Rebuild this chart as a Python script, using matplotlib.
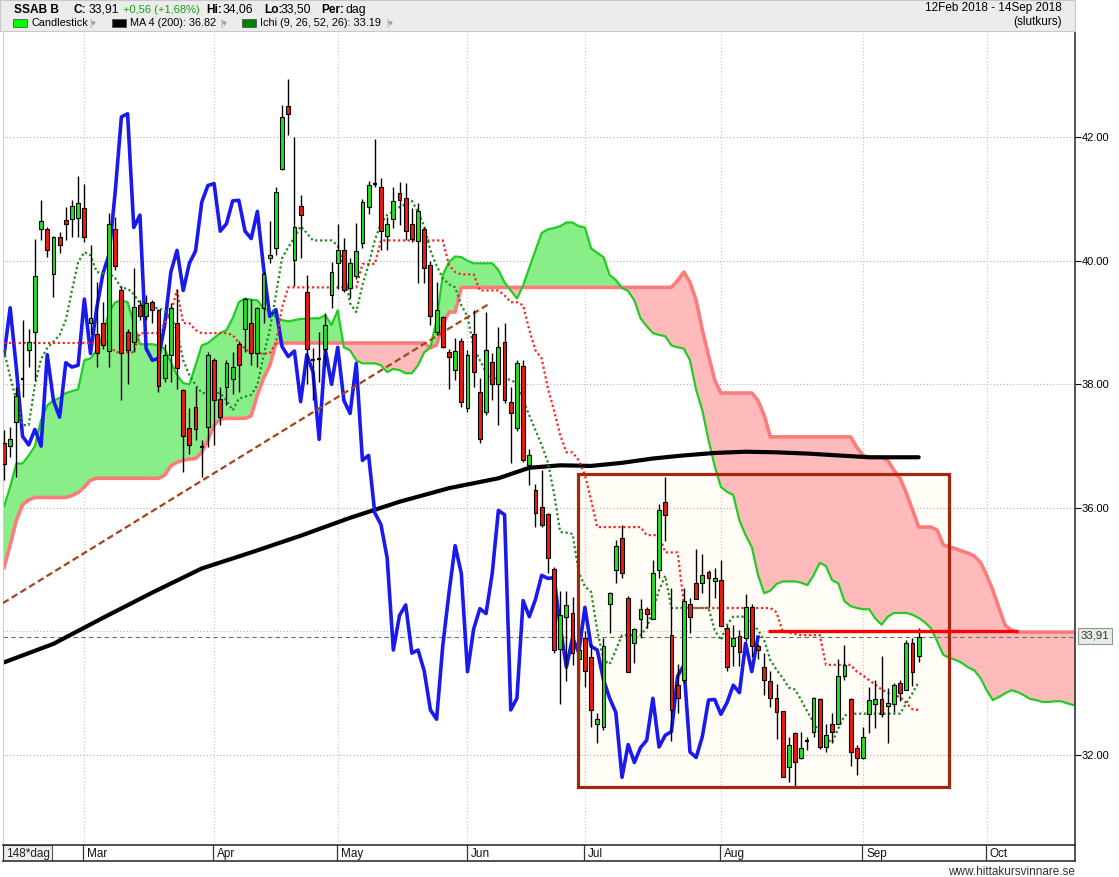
import matplotlib
matplotlib.use('Agg')
import matplotlib.pyplot as plt
from matplotlib.patches import Rectangle
import numpy as np

plt.rcParams['font.family'] = ['Liberation Sans', 'DejaVu Sans']

W, H = 1119, 877

# ---------------- data (trading-day index 0 = 12 Feb 2018) ----------------
opens = [37.05, 37.01, 37.39, 38.06, 38.56, 38.84, 40.51, 40.52, 39.79, 40.39,
         40.66, 40.68, 40.70, 40.86, 39.00, 38.81, 38.99, 38.54, 40.51, 39.52,
         38.84, 38.69, 39.29, 39.10, 39.33, 39.20, 38.10, 38.47, 38.99, 37.91,
         37.30, 37.63, 36.96, 37.31, 38.40, 37.77, 37.96, 38.09, 38.66, 38.89,
         39.00, 38.51, 39.24, 40.04, 40.20, 41.49, 42.50, 40.01, 40.89, 39.50,
         38.40, 38.41, 38.58, 39.45, 39.96, 40.17, 39.56, 39.75, 40.29, 40.87,
         41.24, 41.20, 40.40, 40.67, 41.10, 41.01, 40.59, 40.32, 40.51, 39.94,
         38.85, 39.09, 38.52, 38.23, 38.70, 37.61, 38.81, 37.87, 37.55, 38.37,
         38.01, 38.69, 37.71, 37.30, 38.30, 36.70, 36.29, 36.02, 35.90, 35.01,
         33.71, 34.24, 34.30, 33.55, 33.89, 33.59, 32.51, 32.45, 34.44, 35.00,
         35.51, 34.55, 33.81, 34.21, 34.37, 34.21, 35.00, 36.09, 33.95, 33.13,
         33.22, 34.44, 34.78, 34.79, 34.96, 34.81, 34.84, 34.05, 33.77, 33.93,
         33.89, 34.39, 33.77, 33.42, 33.20, 32.93, 32.71, 31.80, 32.35, 31.96,
         32.23, 32.38, 32.90, 32.13, 32.51, 32.51, 33.28, 32.90, 32.11, 31.96,
         32.67, 32.83, 32.90, 32.80, 32.83, 33.17, 33.06, 33.82, 33.61]
highs = [37.26, 37.31, 37.96, 39.04, 38.90, 40.35, 40.98, 40.55, 40.40, 40.47,
         40.87, 40.99, 41.37, 41.24, 40.25, 39.66, 39.33, 40.77, 40.71, 39.60,
         38.90, 39.88, 39.36, 39.44, 39.36, 39.22, 38.66, 39.31, 39.55, 37.92,
         37.61, 37.96, 37.10, 38.52, 38.42, 37.96, 38.39, 38.53, 38.70, 39.40,
         39.38, 39.25, 39.82, 40.64, 41.20, 42.52, 42.95, 42.00, 41.06, 39.77,
         38.59, 38.85, 39.15, 39.98, 40.60, 40.37, 40.05, 40.61, 41.00, 41.30,
         41.97, 41.34, 40.71, 41.20, 41.28, 41.26, 40.85, 40.93, 40.55, 40.00,
         39.66, 39.10, 38.58, 38.75, 38.75, 38.55, 39.20, 38.10, 39.17, 38.50,
         38.93, 39.00, 37.96, 38.40, 38.40, 36.96, 36.39, 36.61, 35.92, 35.05,
         34.65, 34.65, 34.56, 34.10, 34.00, 33.80, 32.68, 33.90, 34.64, 35.48,
         35.73, 34.57, 34.06, 34.52, 34.40, 35.16, 36.07, 36.50, 34.70, 33.48,
         34.70, 34.55, 35.33, 35.25, 35.00, 35.03, 35.15, 34.11, 34.11, 34.03,
         34.60, 34.44, 33.80, 33.65, 33.36, 33.15, 32.71, 32.30, 32.38, 32.38,
         32.30, 32.94, 32.92, 32.50, 32.68, 33.55, 33.78, 32.92, 32.17, 32.45,
         33.10, 33.21, 33.61, 33.08, 33.16, 33.21, 33.86, 33.89, 34.06]
lows = [36.45, 36.83, 36.50, 37.80, 38.28, 38.07, 40.33, 40.06, 39.42, 40.12,
        40.33, 40.39, 40.39, 40.31, 38.82, 38.28, 38.58, 38.28, 39.85, 37.74,
        38.01, 38.53, 39.04, 39.05, 38.99, 37.88, 38.04, 38.04, 37.93, 36.58,
        36.88, 37.10, 36.50, 36.99, 37.02, 37.34, 37.66, 37.85, 37.88, 38.53,
        38.31, 38.28, 39.00, 39.96, 40.10, 41.47, 42.03, 39.60, 40.04, 38.00,
        37.74, 38.04, 38.30, 39.23, 39.55, 39.49, 39.40, 39.70, 40.20, 40.75,
        41.20, 40.17, 40.17, 40.53, 40.58, 40.33, 40.30, 39.64, 39.64, 38.96,
        38.80, 38.59, 37.93, 38.07, 37.64, 37.55, 37.96, 37.05, 37.50, 37.74,
        37.34, 37.70, 36.72, 37.25, 36.74, 36.37, 35.69, 35.69, 34.94, 33.65,
        32.83, 33.20, 33.45, 33.20, 33.10, 32.45, 32.19, 32.40, 33.98, 34.78,
        34.87, 33.35, 33.49, 33.89, 34.05, 34.21, 34.86, 35.47, 32.23, 32.68,
        33.16, 33.98, 34.52, 34.62, 34.39, 34.55, 34.09, 33.36, 33.44, 33.44,
        33.85, 33.58, 33.55, 32.98, 32.77, 32.26, 31.64, 31.57, 31.49, 31.94,
        32.08, 32.29, 32.10, 32.05, 32.19, 32.50, 33.22, 31.82, 31.67, 31.93,
        32.36, 32.44, 32.61, 32.19, 32.70, 32.87, 33.06, 33.12, 33.50]
closes = [36.71, 37.11, 37.81, 38.10, 38.69, 39.75, 40.64, 40.17, 40.39, 40.25,
          40.60, 40.89, 40.94, 40.38, 39.07, 38.50, 38.63, 40.60, 39.92, 38.50,
          38.56, 39.25, 39.10, 39.31, 39.20, 37.97, 38.47, 39.24, 38.26, 37.16,
          37.02, 37.27, 37.00, 38.48, 37.74, 37.47, 38.35, 38.28, 38.31, 39.38,
          38.50, 39.23, 39.79, 40.10, 41.12, 42.33, 42.38, 40.54, 40.74, 38.58,
          38.39, 38.42, 38.96, 39.82, 40.17, 39.52, 39.96, 40.16, 40.95, 41.22,
          41.25, 40.48, 40.60, 40.97, 40.98, 40.48, 40.36, 40.80, 39.89, 39.10,
          39.21, 38.61, 38.45, 38.54, 37.72, 38.48, 38.20, 37.11, 38.56, 38.00,
          38.60, 37.74, 37.53, 38.34, 36.77, 36.85, 35.92, 35.73, 35.19, 33.70,
          34.26, 34.43, 33.65, 33.70, 33.36, 32.73, 32.58, 33.77, 34.62, 35.39,
          34.94, 33.35, 34.04, 34.37, 34.29, 34.94, 35.96, 35.89, 32.73, 32.92,
          34.50, 34.24, 34.52, 34.91, 34.86, 34.87, 34.09, 33.42, 33.90, 33.66,
          34.39, 33.76, 33.70, 33.22, 32.92, 32.69, 31.64, 32.17, 31.88, 32.12,
          32.24, 32.92, 32.13, 32.32, 32.38, 33.28, 33.45, 32.05, 31.96, 32.30,
          32.89, 32.90, 32.66, 32.85, 33.13, 33.01, 33.81, 33.35, 33.91]

# Ichimoku cloud (already displaced 26 days forward, index 0..174)
span_a = [36.02, 36.34, 36.72, 36.72, 36.85, 37.00, 37.42, 37.66, 37.74, 37.78,
          37.86, 37.89, 37.92, 38.39, 38.42, 38.55, 38.80, 39.17, 39.33, 39.36,
          39.33, 39.00, 38.65, 38.65, 38.65, 38.63, 38.58, 38.36, 38.15, 38.02,
          38.00, 38.31, 38.63, 38.67, 38.75, 38.83, 38.88, 39.07, 39.33, 39.39,
          39.37, 39.36, 39.23, 39.18, 39.09, 39.04, 39.02, 39.04, 39.06, 39.06,
          39.07, 39.07, 39.12, 38.96, 39.20, 38.60, 38.55, 38.39, 38.34, 38.34,
          38.34, 38.31, 38.20, 38.25, 38.23, 38.18, 38.18, 38.31, 38.52, 38.60,
          39.04, 39.77, 39.98, 40.07, 40.06, 40.00, 39.96, 39.96, 39.96, 39.96,
          39.85, 39.65, 39.52, 39.39, 39.60, 39.89, 40.17, 40.45, 40.51, 40.53,
          40.56, 40.62, 40.62, 40.56, 40.54, 40.20, 40.13, 40.06, 39.77, 39.69,
          39.56, 39.51, 39.36, 39.07, 38.94, 38.83, 38.80, 38.78, 38.63, 38.60,
          38.58, 38.39, 37.91, 37.58, 37.10, 36.68, 36.34, 36.26, 36.21, 35.80,
          35.56, 35.37, 34.92, 34.62, 34.66, 34.77, 34.81, 34.81, 34.81, 34.79,
          34.75, 34.91, 35.11, 35.06, 34.83, 34.78, 34.49, 34.41, 34.38, 34.36,
          34.36, 34.21, 34.11, 34.24, 34.30, 34.30, 34.30, 34.27, 34.22, 34.15,
          34.05, 33.84, 33.62, 33.57, 33.54, 33.49, 33.42, 33.37, 33.25, 33.05,
          32.89, 32.94, 33.00, 33.05, 33.02, 32.97, 32.91, 32.89, 32.86, 32.86,
          32.87, 32.87, 32.84, 32.81, 32.81]
span_b = [35.03, 35.40, 35.80, 36.05, 36.13, 36.17, 36.17, 36.17, 36.17, 36.17,
          36.17, 36.20, 36.25, 36.34, 36.45, 36.48, 36.48, 36.48, 36.48, 36.48,
          36.48, 36.48, 36.48, 36.48, 36.48, 36.48, 36.53, 36.68, 36.74, 36.77,
          36.79, 36.80, 36.90, 37.10, 37.34, 37.44, 37.45, 37.45, 37.45, 37.45,
          37.49, 37.83, 38.10, 38.30, 38.67, 38.67, 38.67, 38.67, 38.67, 38.67,
          38.67, 38.67, 38.67, 38.67, 38.67, 38.67, 38.67, 38.67, 38.67, 38.67,
          38.67, 38.67, 38.67, 38.67, 38.67, 38.67, 38.67, 38.67, 38.67, 38.59,
          38.64, 38.97, 39.17, 39.17, 39.57, 39.57, 39.57, 39.57, 39.57, 39.57,
          39.57, 39.57, 39.57, 39.57, 39.57, 39.57, 39.57, 39.57, 39.57, 39.57,
          39.57, 39.57, 39.57, 39.57, 39.57, 39.57, 39.57, 39.57, 39.57, 39.57,
          39.57, 39.57, 39.57, 39.57, 39.57, 39.57, 39.57, 39.57, 39.57, 39.68,
          39.82, 39.65, 39.36, 38.88, 38.47, 38.07, 37.86, 37.86, 37.86, 37.86,
          37.86, 37.86, 37.74, 37.50, 37.15, 37.15, 37.15, 37.15, 37.15, 37.15,
          37.15, 37.15, 37.15, 37.15, 37.15, 37.15, 37.15, 37.15, 36.98, 36.85,
          36.82, 36.82, 36.82, 36.77, 36.61, 36.48, 36.24, 35.97, 35.69, 35.69,
          35.69, 35.64, 35.40, 35.37, 35.34, 35.30, 35.27, 35.22, 35.12, 34.91,
          34.67, 34.38, 34.10, 34.02, 33.99, 33.99, 33.99, 33.99, 33.99, 33.99,
          33.99, 33.99, 33.99, 33.99, 33.99]
tenkan = [38.55, 38.12, 37.74, 37.34, 37.34, 37.99, 38.41, 38.59, 38.69, 38.80,
          39.04, 39.52, 39.98, 40.14, 40.09, 39.82, 39.80, 39.80, 39.72, 39.56,
          39.55, 39.46, 39.31, 39.28, 39.25, 39.23, 39.20, 39.07, 38.88, 38.39,
          38.15, 37.99, 37.86, 37.86, 37.86, 37.86, 37.74, 37.58, 37.77, 37.80,
          37.83, 37.99, 38.47, 38.88, 39.45, 40.04, 40.22, 40.38, 40.56, 40.45,
          40.33, 40.33, 40.33, 40.33, 40.25, 39.89, 39.31, 39.17, 39.61, 39.94,
          40.33, 40.61, 40.74, 40.80, 40.87, 40.92, 40.97, 40.79, 40.56, 40.17,
          39.92, 39.72, 39.62, 39.57, 39.28, 39.10, 38.60, 38.39, 38.20, 38.10,
          38.10, 38.10, 38.07, 38.02, 37.74, 37.50, 37.26, 37.02, 36.74, 36.24,
          35.61, 35.60, 35.58, 34.96, 34.73, 34.64, 34.02, 33.54, 33.47, 33.70,
          33.94, 33.94, 33.94, 33.94, 34.06, 34.35, 34.67, 34.90, 34.38, 34.38,
          34.38, 34.38, 34.38, 34.38, 34.38, 34.02, 33.86, 34.11, 34.24, 34.24,
          34.24, 34.15, 34.02, 33.86, 33.54, 33.38, 33.25, 33.09, 33.06, 32.89,
          32.70, 32.53, 32.35, 32.27, 32.20, 32.43, 32.64, 32.67, 32.67, 32.67,
          32.67, 32.67, 32.67, 32.67, 32.67, 32.67, 32.84, 33.00, 33.18]
kijun = [38.67, 38.67, 38.67, 38.67, 38.67, 38.67, 38.67, 38.67, 38.67, 38.67,
         38.67, 38.67, 38.67, 38.67, 38.67, 38.67, 38.67, 38.67, 38.52, 38.52,
         38.52, 38.52, 38.83, 38.83, 38.83, 38.83, 38.99, 39.17, 39.52, 38.99,
         38.99, 38.88, 38.83, 38.83, 38.83, 38.83, 38.83, 38.80, 38.67, 38.58,
         38.50, 38.50, 38.50, 38.50, 38.67, 39.25, 39.57, 39.57, 39.57, 39.57,
         39.57, 39.57, 39.57, 39.57, 39.57, 39.57, 39.57, 39.57, 39.95, 39.95,
         39.95, 40.33, 40.33, 40.33, 40.33, 40.33, 40.33, 40.33, 40.33, 40.33,
         40.33, 40.33, 39.93, 39.82, 39.78, 39.78, 39.78, 39.52, 39.52, 39.52,
         39.52, 39.44, 39.33, 39.33, 39.28, 38.88, 38.55, 38.42, 37.94, 37.58,
         37.18, 36.90, 36.90, 36.77, 36.53, 36.13, 35.69, 35.69, 35.69, 35.69,
         35.69, 35.69, 35.69, 35.69, 35.56, 35.56, 35.56, 35.28, 35.28, 35.28,
         34.46, 34.38, 34.38, 34.38, 34.38, 34.38, 34.38, 34.38, 34.38, 34.38,
         34.38, 34.38, 34.38, 34.38, 34.38, 34.31, 34.00, 33.98, 33.96, 33.94,
         33.94, 33.94, 33.94, 33.46, 33.46, 33.46, 33.46, 33.46, 33.35, 33.29,
         33.21, 33.14, 33.06, 33.01, 32.97, 32.94, 32.84, 32.74, 32.73]
ma_idx = [0, 8, 16, 24, 32, 40, 48, 56, 64, 72, 80, 85, 90, 95, 100, 105, 110,
          115, 120, 125, 130, 135, 140, 145, 148]
ma_val = [33.50, 33.80, 34.22, 34.63, 35.02, 35.28, 35.55, 35.84, 36.10, 36.32,
          36.48, 36.65, 36.69, 36.68, 36.73, 36.80, 36.85, 36.89, 36.91, 36.90,
          36.88, 36.85, 36.82, 36.82, 36.82]
chikou_shift = 26

month_labels = ['Mar', 'Apr', 'May', 'Jun', 'Jul', 'Aug', 'Sep', 'Oct']
month_pos = [13, 34, 54, 75, 94, 116, 139, 159]
price_ticks = [32, 34, 36, 38, 40, 42]
last_close = 33.91

# drawn annotations (data coordinates)
box_x = (92.9, 152.9)
box_y = (31.48, 36.55)
trend_x = (-0.16, 78.6)
trend_y = (34.46, 39.31)
hline_x = (123.6, 164.1)
hline_y = 34.0

# ---------------- figure ----------------
fig = plt.figure(figsize=(W / 100, H / 100), dpi=100)
fig.patch.set_facecolor('white')

def fx(px):
    return px / W

def fy(py):
    return 1 - py / H

L_, R_, T_, B_ = 3, 1075, 31, 845
ax = fig.add_axes([fx(L_), fy(B_), (R_ - L_) / W, (B_ - T_) / H])
ax.set_xlim(-0.16, 173.3)
ax.set_ylim(30.544, 43.72)
ax.set_facecolor('white')

n = len(closes)
idx = np.arange(n)
cidx = np.arange(len(span_a))

# box fill
ax.add_patch(Rectangle((box_x[0], box_y[0]), box_x[1] - box_x[0], box_y[1] - box_y[0],
                       facecolor='#fffdf6', edgecolor='none', zorder=0.5))

# grid
for p in price_ticks:
    ax.axhline(p, color='#b0b0b0', lw=0.8, ls=(0, (1, 2)), zorder=0.8)
for m in month_pos:
    ax.axvline(m, color='#c0c0c0', lw=0.8, ls=(0, (1, 2)), zorder=0.8)

# cloud
sa = np.array(span_a)
sb = np.array(span_b)
ax.fill_between(cidx, sa, sb, where=sa >= sb, interpolate=True,
                facecolor='#88ee88', edgecolor='none', zorder=1)
ax.fill_between(cidx, sa, sb, where=sa < sb, interpolate=True,
                facecolor='#ffbbbb', edgecolor='none', zorder=1)
ax.plot(cidx, sb, color='#ff7b7b', lw=2.6, zorder=1.5, solid_joinstyle='round')
ax.plot(cidx, sa, color='#22cc22', lw=1.6, zorder=1.6, solid_joinstyle='round')

# current price dashed line
ax.axhline(last_close, color='#5a7a5a', lw=0.8, ls=(0, (4, 3)), zorder=1.7)

# MA 200
ax.plot(ma_idx, ma_val, color='black', lw=3.0, zorder=2, solid_capstyle='round')

# chikou span (close shifted back)
ax.plot(idx[chikou_shift:] - chikou_shift, closes[chikou_shift:], color='#1a1aee',
        lw=2.6, zorder=2.5, solid_joinstyle='round')

# tenkan / kijun
ax.plot(idx, kijun, color='#ff2020', lw=1.6, ls=(0, (1, 1.2)), zorder=2.6)
ax.plot(idx, tenkan, color='#1e8a1e', lw=1.6, ls=(0, (1, 1.2)), zorder=2.6)

# trend line
ax.plot(trend_x, trend_y, color='#a4441c', lw=1.6, ls=(0, (3, 1.6)), zorder=2.7)

# candles
bw = 0.62
for i in range(n):
    o, h, l, c = opens[i], highs[i], lows[i], closes[i]
    ax.vlines(i, l, h, color='black', lw=1.0, zorder=3)
    if abs(c - o) < 0.045:
        ax.hlines((o + c) / 2, i - bw / 2, i + bw / 2, color='black', lw=1.6, zorder=3.1)
    else:
        col = '#22e022' if c > o else '#f01a10'
        ax.add_patch(Rectangle((i - bw / 2, min(o, c)), bw, abs(c - o),
                               facecolor=col, edgecolor='black', lw=0.8, zorder=3.1))

# box edge
ax.add_patch(Rectangle((box_x[0], box_y[0]), box_x[1] - box_x[0], box_y[1] - box_y[0],
                       facecolor='none', edgecolor='#a3290a', lw=2.3, zorder=3.5))

# red horizontal line
ax.plot(hline_x, [hline_y, hline_y], color='#ff0000', lw=2.4, zorder=3.6,
        solid_capstyle='butt')

# axis styling
ax.yaxis.tick_right()
ax.set_yticks([32, 36, 38, 40, 42])
ax.set_yticklabels(['32.00', '36.00', '38.00', '40.00', '42.00'])
ax.tick_params(axis='y', direction='out', length=4, width=0.8, colors='black',
               labelsize=8, pad=1)
ax.set_xticks([])
for s in ['top', 'bottom']:
    ax.spines[s].set_visible(False)
ax.spines['right'].set_color('#333333')
ax.spines['right'].set_linewidth(1.2)
ax.spines['left'].set_color('#d0d0d0')

# date band
bax = fig.add_axes([fx(L_), fy(861), (R_ - L_) / W, 16 / H])
bax.set_xlim(-0.16, 173.3)
bax.set_ylim(0, 1)
bax.set_xticks([])
bax.set_yticks([])
for s in ['top', 'bottom']:
    bax.spines[s].set_color('#333333')
    bax.spines[s].set_linewidth(1.2)
bax.spines['left'].set_color('#333333')
bax.spines['right'].set_color('#333333')
bax.spines['right'].set_linewidth(1.2)
for lab, m in zip(month_labels, month_pos):
    bax.axvline(m - 0.15, color='#333333', lw=0.9)
    bax.text(m + 0.5, 0.45, lab, fontsize=8.5, va='center', ha='left', color='#111111')
bax.add_patch(Rectangle((-0.16, 0), 7.9, 1, facecolor='#eeeeee', edgecolor='#555555', lw=0.8))
bax.text(0.3, 0.45, '148*dag', fontsize=8.5, va='center', ha='left', color='#222222')

# price label at right
fig.text(fx(1095), fy(636), '33,91', fontsize=8.2, ha='center', va='center', color='#333333',
         bbox=dict(boxstyle='square,pad=0.25', facecolor='#e6ece6', edgecolor='#8a9a8a', lw=0.8))

# header
fig.patches.append(Rectangle((0, fy(31)), fx(1075), 31 / H, transform=fig.transFigure,
                             facecolor='#ececec', edgecolor='#c8c8c8', lw=0.8, zorder=0))
r1, r2 = fy(10), fy(23)
fig.text(fx(14), r1, 'SSAB B', fontsize=8.6, fontweight='bold', va='center')
fig.text(fx(74), r1, 'C:', fontsize=8.6, fontweight='bold', va='center')
fig.text(fx(89), r1, '33,91', fontsize=8.8, va='center')
fig.text(fx(123), r1, '+0,56 (+1,68%)', fontsize=8.0, va='center', color='#16a016')
fig.text(fx(206), r1, 'Hi:', fontsize=8.6, fontweight='bold', va='center')
fig.text(fx(223), r1, '34,06', fontsize=8.8, va='center')
fig.text(fx(264), r1, 'Lo:', fontsize=8.6, fontweight='bold', va='center')
fig.text(fx(281), r1, '33,50', fontsize=8.8, va='center')
fig.text(fx(321), r1, 'Per:', fontsize=8.6, fontweight='bold', va='center')
fig.text(fx(346), r1, 'dag', fontsize=8.8, va='center')

for x0, col, lab, xa in [(13, '#00ff00', 'Candlestick', 89),
                         (112, '#000000', 'MA 4 (200): 36.82', 220),
                         (242, '#008000', 'Ichi (9, 26, 52, 26): 33.19', 386)]:
    fig.patches.append(Rectangle((fx(x0), fy(27)), 14 / W, 8 / H, transform=fig.transFigure,
                                 facecolor=col, edgecolor='#444444', lw=0.5, zorder=1))
    fig.text(fx(x0 + 18), r2, lab, fontsize=7.8, va='center')
    fig.text(fx(xa), r2, '|\u25be', fontsize=6.5, va='center', color='#999999')

fig.text(fx(1062), fy(8), '12Feb 2018 - 14Sep 2018', fontsize=8.5, ha='right', va='center')
fig.text(fx(1062), fy(22), '(slutkurs)', fontsize=8.5, ha='right', va='center')

fig.text(fx(1075), fy(872), 'www.hittakursvinnare.se', fontsize=8.5, ha='right', va='center',
         color='#333333')

fig.savefig('out.png', dpi=100, facecolor='white')
